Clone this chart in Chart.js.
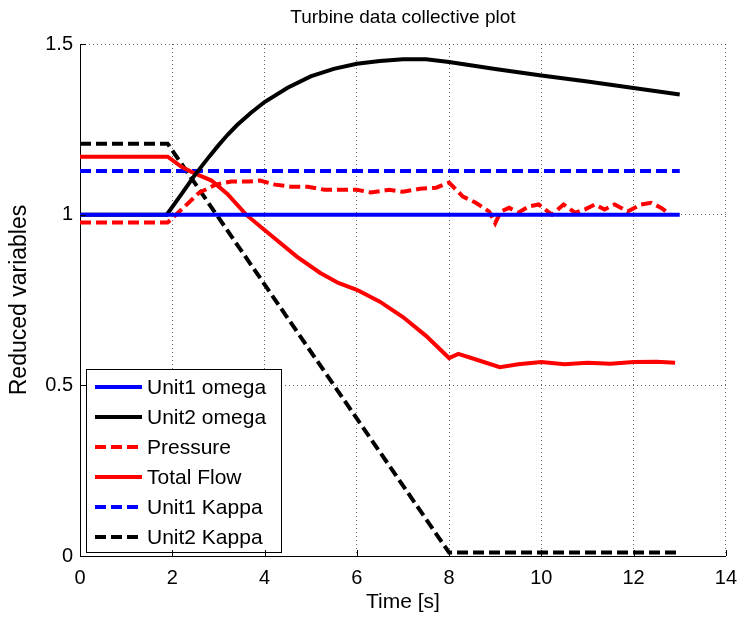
<!DOCTYPE html>
<html>
<head>
<meta charset="utf-8">
<script src="https://cdn.jsdelivr.net/npm/chart.js@4/dist/chart.umd.min.js"></script>
<style>
  html, body { margin: 0; padding: 0; background: #fff; }
  #wrap { width: 747px; height: 618px; }
</style>
</head>
<body>
<div id="wrap"><canvas id="turbine"></canvas></div>
<script>
// tick values
var xTicks = [0, 2, 4, 6, 8, 10, 12, 14];
var yTicks = [0, 0.5, 1, 1.5];

// series (time in s, reduced value)
var unit1OmegaT = [0, 1.9, 13];
var unit1Omega  = [1, 1, 1];

var unit2OmegaT = [0, 1.88, 2.2, 2.5, 2.8, 3.0, 3.2, 3.4, 3.7, 4, 4.5, 5, 5.5, 6, 6.5, 7, 7.5, 8, 9, 10, 11, 12, 13];
var unit2Omega  = [1, 1, 1.06, 1.118, 1.17, 1.203, 1.234, 1.262, 1.298, 1.33, 1.372, 1.405, 1.427, 1.442, 1.45, 1.455, 1.455, 1.447, 1.427, 1.408, 1.39, 1.371, 1.352];

var pressureT = [0, 1.9, 2.2, 2.58, 2.94, 3.28, 3.65, 3.9, 4.23, 4.57, 4.94, 5.3, 5.65, 6, 6.3, 6.7, 7, 7.37, 7.72, 8, 8.3, 8.58, 8.87, 9, 9.12, 9.3, 9.5, 9.73, 9.94, 10.23, 10.48, 10.73, 10.94, 11.16, 11.37, 11.59, 11.87, 12.16, 12.38, 12.6, 12.8];
var pressure  = [0.977, 0.977, 1.015, 1.064, 1.088, 1.097, 1.097, 1.1, 1.088, 1.082, 1.082, 1.073, 1.073, 1.073, 1.065, 1.073, 1.067, 1.076, 1.079, 1.094, 1.053, 1.035, 1.009, 0.975, 1.009, 1.02, 1.006, 1.024, 1.03, 1.0, 1.03, 1.006, 1.015, 1.03, 1.015, 1.03, 1.009, 1.03, 1.035, 1.02, 1.0];

var totalFlowT = [0, 1.9, 2.2, 2.5, 2.85, 3.2, 3.6, 4, 4.7, 5.2, 5.6, 6, 6.5, 7, 7.5, 8, 8.2, 8.6, 9.1, 9.5, 10, 10.5, 11, 11.5, 12, 12.5, 12.9];
var totalFlow  = [1.17, 1.17, 1.14, 1.12, 1.1, 1.06, 1.0, 0.955, 0.877, 0.83, 0.8, 0.78, 0.745, 0.7, 0.645, 0.58, 0.592, 0.575, 0.553, 0.562, 0.568, 0.562, 0.566, 0.563, 0.568, 0.569, 0.566];

var unit1KappaT = [0, 13];
var unit1Kappa  = [1.128, 1.128];

var unit2KappaT = [0, 1.9, 8.0, 13];
var unit2Kappa  = [1.208, 1.208, 0.01, 0.01];

var chartTitle = "Turbine data collective plot";
var FONT = "'Liberation Sans', Arial, sans-serif";

function pts(t, v) {
    return t.map(function (x, i) { return {x: x, y: v[i]}; });
}

function line(label, t, v, color, dashed) {
    return {
        label: label,
        data: pts(t, v),
        borderColor: color,
        borderWidth: 4,
        borderDash: dashed ? [11, 5] : [],
        pointRadius: 0,
        tension: 0,
        fill: false
    };
}

// title centred over the axes (not the whole canvas)
var axesTitle = {
    id: "axesTitle",
    afterDraw: function (chart) {
        var ctx = chart.ctx, area = chart.chartArea;
        ctx.save();
        ctx.font = "19px " + FONT;
        ctx.fillStyle = "#000";
        ctx.textAlign = "center";
        ctx.textBaseline = "middle";
        ctx.fillText(chartTitle, (area.left + area.right) / 2, 18);
        ctx.restore();
    }
};

// matlab-style legend box in the lower left corner
var boxLegend = {
    id: "boxLegend",
    afterDatasetsDraw: function (chart) {
        var ctx = chart.ctx, area = chart.chartArea;
        var left = area.left + 6, top = area.top + 325, w = 195, h = 183;
        ctx.save();
        ctx.fillStyle = "#fff";
        ctx.fillRect(left, top, w, h);
        ctx.strokeStyle = "#000";
        ctx.lineWidth = 1;
        ctx.strokeRect(left + 0.5, top + 0.5, w, h);
        ctx.font = "21px " + FONT;
        ctx.textBaseline = "middle";
        chart.data.datasets.forEach(function (ds, i) {
            var y = top + 18 + i * 30;
            ctx.beginPath();
            ctx.setLineDash(ds.borderDash);
            ctx.strokeStyle = ds.borderColor;
            ctx.lineWidth = 4;
            ctx.moveTo(left + 9, y);
            ctx.lineTo(left + 56, y);
            ctx.stroke();
            ctx.setLineDash([]);
            ctx.fillStyle = "#000";
            ctx.fillText(ds.label, left + 61, y + 1);
        });
        ctx.restore();
    }
};

// inward tick marks on left and bottom axes
var innerTicks = {
    id: "innerTicks",
    afterDraw: function (chart) {
        var ctx = chart.ctx, area = chart.chartArea;
        var xs = chart.scales.x, ys = chart.scales.y;
        ctx.save();
        ctx.strokeStyle = "#000";
        ctx.lineWidth = 1;
        ctx.beginPath();
        xTicks.forEach(function (v) {
            var px = Math.round(xs.getPixelForValue(v)) + 0.5;
            ctx.moveTo(px, area.bottom);
            ctx.lineTo(px, area.bottom - 6);
        });
        yTicks.forEach(function (v) {
            var py = Math.round(ys.getPixelForValue(v)) + 0.5;
            ctx.moveTo(area.left, py);
            ctx.lineTo(area.left + 6, py);
        });
        ctx.stroke();
        ctx.restore();
    }
};

function createChart() {
    var canvas = document.querySelector("#turbine").getContext("2d");
    new Chart(canvas, {
        type: "line",
        data: {
            datasets: [
                line("Unit1 omega", unit1OmegaT, unit1Omega, "#0000ff", false),
                line("Unit2 omega", unit2OmegaT, unit2Omega, "#000000", false),
                line("Pressure", pressureT, pressure, "#ff0000", true),
                line("Total Flow", totalFlowT, totalFlow, "#ff0000", false),
                line("Unit1 Kappa", unit1KappaT, unit1Kappa, "#0000ff", true),
                line("Unit2 Kappa", unit2KappaT, unit2Kappa, "#000000", true)
            ]
        },
        options: {
            responsive: true,
            maintainAspectRatio: false,
            animation: false,
            layout: {padding: {left: 0, right: 14, top: 44, bottom: 0}},
            plugins: {
                legend: {display: false},
                tooltip: {enabled: false},
                title: {display: false}
            },
            scales: {
                x: {
                    type: "linear",
                    min: 0,
                    max: 14,
                    afterBuildTicks: function (s) { s.ticks = xTicks.map(function (v) { return {value: v}; }); },
                    afterFit: function (s) { s.height = 62; },
                    grid: {color: "rgba(0,0,0,0.6)", lineWidth: 1, drawTicks: false},
                    border: {display: true, color: "#000", width: 1, dash: [1, 3]},
                    ticks: {color: "#000", font: {family: FONT, size: 20}, padding: 10, maxRotation: 0},
                    title: {display: true, text: "Time [s]", color: "#000",
                            font: {family: FONT, size: 21}, padding: {top: 0, bottom: 3}}
                },
                y: {
                    type: "linear",
                    min: 0,
                    max: 1.5,
                    afterBuildTicks: function (s) { s.ticks = yTicks.map(function (v) { return {value: v}; }); },
                    afterFit: function (s) { s.width = 80; },
                    grid: {color: "rgba(0,0,0,0.6)", lineWidth: 1, drawTicks: false},
                    border: {display: true, color: "#000", width: 1, dash: [1, 3]},
                    ticks: {color: "#000", font: {family: FONT, size: 20}, padding: 7,
                            callback: function (v) { return String(v); }},
                    title: {display: true, text: "Reduced variables", color: "#000",
                            font: {family: FONT, size: 23}, padding: {top: 6, bottom: 0}}
                }
            }
        },
        plugins: [boxLegend, innerTicks, axesTitle]
    });
}

createChart();
</script>
</body>
</html>
